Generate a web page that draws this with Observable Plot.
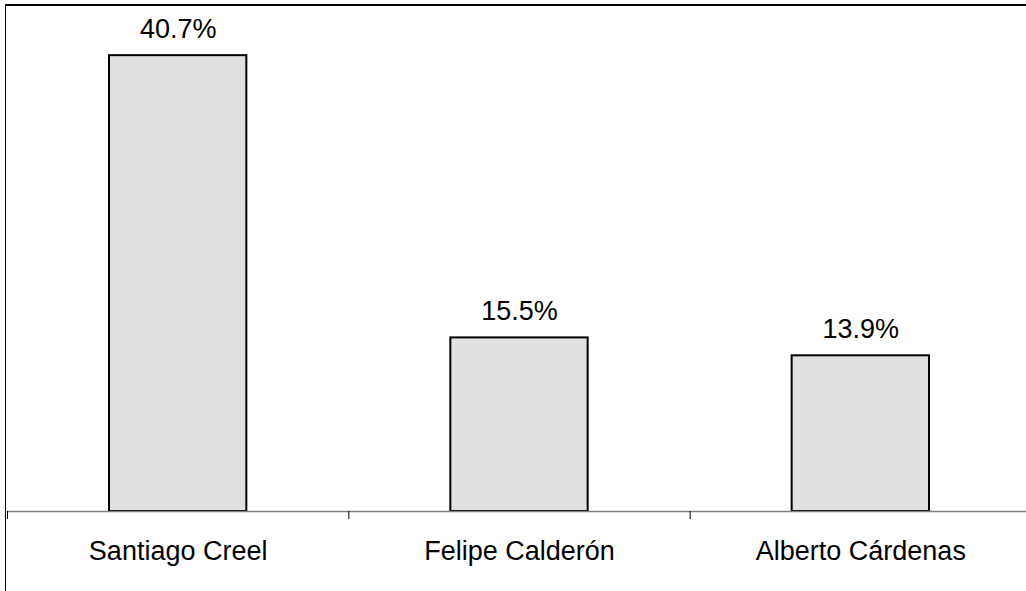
<!DOCTYPE html>
<html>
<head>
<meta charset="utf-8">
<script src="https://cdn.jsdelivr.net/npm/d3@7"></script>
<script src="https://cdn.jsdelivr.net/npm/@observablehq/plot@0.6"></script>
<style>
  html, body { margin: 0; padding: 0; background: #fff; overflow: hidden; }
  #chart { position: relative; width: 1026px; height: 591px; }
  #chart svg { position: absolute; left: 0; top: 0; }
  /* chart-area outline: only its left and top edges fall inside the page */
  #chart .outline {
    position: absolute; left: 5px; top: 4px; width: 1040px; height: 600px;
    border-left: 1.5px solid #000; border-top: 2px solid #000;
    pointer-events: none;
  }
</style>
</head>
<body>
<div id="chart"><div class="outline"></div></div>
<script>
// Candidates and their share of preference (%)
const candidates = ["Santiago Creel", "Felipe Calderón", "Alberto Cárdenas"];
const shares = [40.7, 15.5, 13.9];
// Category boundaries on the index axis, where the tick marks sit
const boundaries = [0, 1, 2, 3];

const rows = candidates.map((name, i) => ({name, i, share: shares[i]}));

const plot = Plot.plot({
  width: 1026,
  height: 591,
  marginTop: 7,
  marginBottom: 80,
  marginLeft: 7,
  marginRight: 0,
  x: {domain: [0, candidates.length], range: [7, 1031], label: null},
  y: {domain: [0, 45], axis: null},
  style: {
    fontFamily: "'Liberation Sans', Arial, sans-serif",
    fontSize: "27px",
    color: "#000",
    background: "transparent",
    overflow: "visible"
  },
  marks: [
    Plot.rectY(rows, {
      x1: "i",
      x2: d => d.i + 1,
      y: "share",
      insetLeft: 102,
      insetRight: 102,
      fill: "#e0e0e0",
      stroke: "#000",
      strokeWidth: 2
    }),
    Plot.ruleY([0], {stroke: "#808080", strokeWidth: 1.5}),
    Plot.axisX({
      ticks: boundaries,
      tickSize: 8,
      tickFormat: () => "",
      label: null,
      stroke: "#000"
    }),
    Plot.text(rows, {
      x: d => d.i + 0.5,
      y: "share",
      text: d => d.share.toFixed(1) + "%",
      lineAnchor: "bottom",
      dy: -18,
      fill: "#000"
    }),
    Plot.text(rows, {
      x: d => d.i + 0.5,
      y: 0,
      text: "name",
      lineAnchor: "bottom",
      dy: 48,
      fill: "#000"
    })
  ]
});

document.getElementById("chart").prepend(plot);
</script>
</body>
</html>
